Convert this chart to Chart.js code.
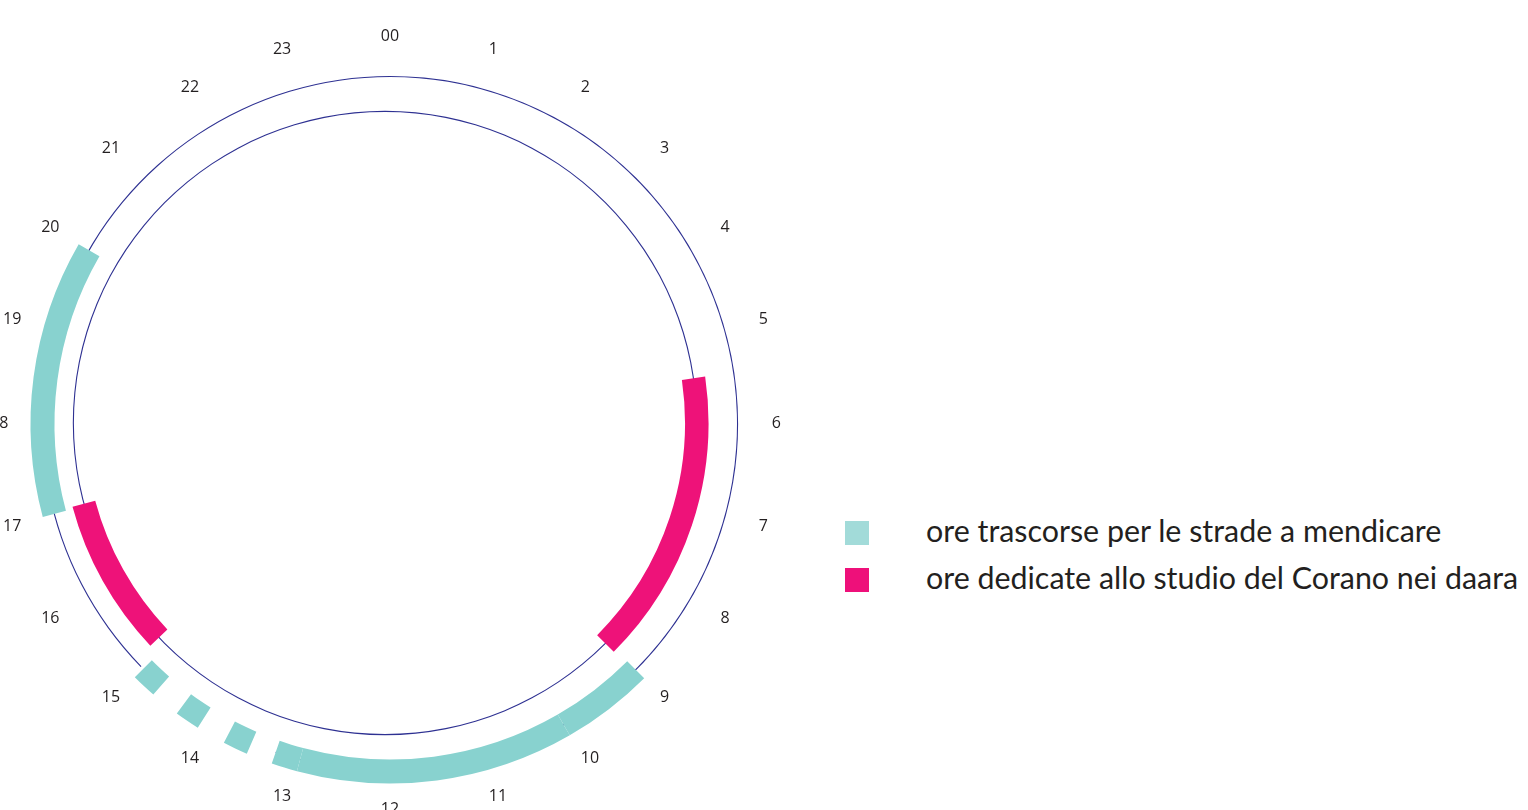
<!DOCTYPE html>
<html>
<head>
<meta charset="utf-8">
<script src="https://cdn.jsdelivr.net/npm/chart.js@4.4.1/dist/chart.umd.min.js"></script>
<style>
  html, body { margin: 0; padding: 0; background: #ffffff; width: 1528px; height: 810px; overflow: hidden; }
  body { position: relative; }
  .layer { position: absolute; display: block; }
  #legend { position: absolute; left: 845px; top: 521px; margin: 0; padding: 0; list-style: none;
            font-family: Lato, 'Open Sans', sans-serif; font-size: 30.4px; color: #231f20; }
  #legend li { display: flex; align-items: center; height: 24px; margin-bottom: 23px; white-space: nowrap; }
  #legend .sw { width: 24px; height: 24px; margin-right: 57px; flex: none; }
  #legend .tx { position: relative; top: -3px; }
</style>
</head>
<body>
<canvas id="outer" class="layer" width="740" height="740" style="left:20px;top:54px"></canvas>
<canvas id="inner" class="layer" width="660" height="660" style="left:55px;top:93px"></canvas>
<canvas id="hours" class="layer" width="800" height="800" style="left:-14px;top:24px"></canvas>
<ul id="legend"></ul>
<script>
// ---- data (hours of the day, 24h clock) ----
const hourLabels = ['00','1','2','3','4','5','6','7','8','9','10','11','12','13','14','15','16','17','18','19','20','21','22','23'];
const streetHours = [[9, 10], [10, 13], [13, 13.28], [13.565, 13.835], [14.155, 14.425], [14.745, 15.015], [17, 20]];
const daaraHours = [[5.45, 9], [15.1, 17]];
const outerGuideHours = [[0, 13.28], [15.05, 24]];
const innerGuideHours = [[0, 24]];
const legendLabels = ['ore trascorse per le strade a mendicare', 'ore dedicate allo studio del Corano nei daara'];

// ---- styles ----
const TEAL = '#88d2cf', PINK = '#ee1279', NAVY = '#2e3192', NONE = 'rgba(0,0,0,0)';
const LEGEND_COLORS = ['#a2dbd9', '#ee107a'];
const DAY = 24;

function segments(intervals, color) {
  const data = [], bg = [];
  let t = 0;
  intervals.slice().sort((a, b) => a[0] - b[0]).forEach(([s, e]) => {
    if (s > t) { data.push(s - t); bg.push(NONE); }
    data.push(e - s); bg.push(color);
    t = e;
  });
  if (t < DAY) { data.push(DAY - t); bg.push(NONE); }
  return { data, bg };
}

// radius / cutout for a ring occupying [inner, outer] px as dataset `index` of `count` (equal weights)
function ring(outer, inner, index, count) {
  const L = outer - inner;
  const R = outer + L * index;
  const m = R - L * count;
  return { radius: R, cutout: (m / R * 100) + '%' };
}

const common = {
  responsive: false, animation: false, events: [], devicePixelRatio: 1,
  plugins: { legend: { display: false }, tooltip: { enabled: false } },
  layout: { padding: 0 }
};

const street = segments(streetHours, TEAL);
const outerGuide = segments(outerGuideHours, NAVY);
new Chart(document.getElementById('outer'), {
  type: 'doughnut',
  data: { datasets: [
    Object.assign({ data: street.data, backgroundColor: street.bg, borderWidth: 0 }, ring(359.5, 335.5, 0, 2)),
    Object.assign({ data: outerGuide.data, backgroundColor: outerGuide.bg, borderWidth: 0 }, ring(348.1, 347.0, 1, 2))
  ]},
  options: Object.assign({ rotation: 0, circumference: 360 }, common)
});

const daara = segments(daaraHours, PINK);
const innerGuide = segments(innerGuideHours, NAVY);
new Chart(document.getElementById('inner'), {
  type: 'doughnut',
  data: { datasets: [
    Object.assign({ data: daara.data, backgroundColor: daara.bg, borderWidth: 0 }, ring(323.5, 300, 0, 2)),
    Object.assign({ data: innerGuide.data, backgroundColor: innerGuide.bg, borderWidth: 0 }, ring(312.2, 311.1, 1, 2))
  ]},
  options: Object.assign({ rotation: 0, circumference: 360 }, common)
});

new Chart(document.getElementById('hours'), {
  type: 'radar',
  data: { labels: hourLabels, datasets: [] },
  options: Object.assign({}, common, {
    scales: { r: {
      min: 0, max: 1,
      grid: { display: false }, angleLines: { display: false }, ticks: { display: false },
      pointLabels: { display: true, padding: 5, color: '#231f20',
                     font: { family: "'Open Sans', sans-serif", size: 16, lineHeight: 0.6 } }
    } }
  })
});

const ul = document.getElementById('legend');
legendLabels.forEach((txt, i) => {
  const li = document.createElement('li');
  const sw = document.createElement('span');
  sw.className = 'sw'; sw.style.background = LEGEND_COLORS[i];
  const tx = document.createElement('span');
  tx.className = 'tx';
  tx.textContent = txt;
  li.appendChild(sw); li.appendChild(tx);
  ul.appendChild(li);
});
</script>
</body>
</html>
